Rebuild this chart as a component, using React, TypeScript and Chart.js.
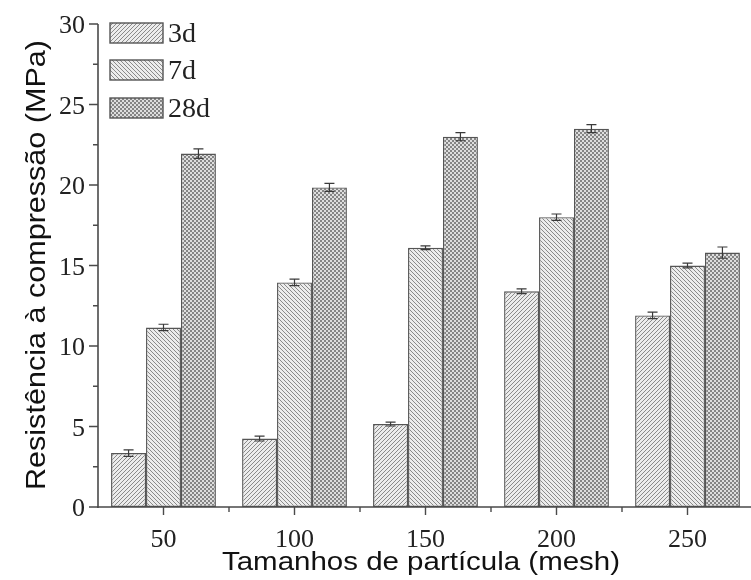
import React, { useEffect, useRef } from "react";
import { Chart, registerables } from "chart.js";

Chart.register(...registerables);

// Compressive strength by particle size (mesh) at three curing ages
const CATEGORIES = ["50", "100", "150", "200", "250"];
const SERIES_LABELS = ["3d", "7d", "28d"];
const VALUES_3D = [3.35, 4.25, 5.15, 13.4, 11.9];
const VALUES_7D = [11.15, 13.95, 16.1, 18.0, 15.0];
const VALUES_28D = [21.95, 19.85, 23.0, 23.5, 15.8];
const ERR_3D = [0.2, 0.15, 0.12, 0.15, 0.2];
const ERR_7D = [0.2, 0.2, 0.12, 0.2, 0.15];
const ERR_28D = [0.3, 0.25, 0.25, 0.25, 0.35];
const Y_TICKS = [0, 5, 10, 15, 20, 25, 30];
const Y_MINOR = [2.5, 7.5, 12.5, 17.5, 22.5, 27.5];
const X_TITLE = "Tamanhos de partícula (mesh)";
const Y_TITLE = "Resistência à compressão (MPa)";

const SERIF = '"Liberation Serif", "Times New Roman", serif';
const SANS = '"Liberation Sans", Arial, sans-serif';
const AXIS_COLOR = "#4a4a4a";
const TEXT_COLOR = "#222";

function makePattern(kind: string): CanvasPattern | string {
  const size = 4;
  const c = document.createElement("canvas");
  c.width = size;
  c.height = size;
  const g = c.getContext("2d");
  if (!g) return "#ccc";
  if (kind === "checker") {
    g.fillStyle = "#dedede";
    g.fillRect(0, 0, size, size);
    g.fillStyle = "#858585";
    g.fillRect(0, 0, 2, 2);
    g.fillRect(2, 2, 2, 2);
  } else {
    g.fillStyle = "#ececec";
    g.fillRect(0, 0, size, size);
    g.strokeStyle = "#8a8a8a";
    g.lineWidth = 1;
    g.beginPath();
    if (kind === "up") {
      g.moveTo(-1, size + 1);
      g.lineTo(size + 1, -1);
      g.moveTo(-1, 1);
      g.lineTo(1, -1);
      g.moveTo(size - 1, size + 1);
      g.lineTo(size + 1, size - 1);
    } else {
      g.moveTo(-1, -1);
      g.lineTo(size + 1, size + 1);
      g.moveTo(size - 1, -1);
      g.lineTo(size + 1, 1);
      g.moveTo(-1, size - 1);
      g.lineTo(1, size + 1);
    }
    g.stroke();
  }
  const p = g.createPattern(c, "repeat");
  return p || "#ccc";
}

function fitText(
  ctx: CanvasRenderingContext2D,
  text: string,
  x: number,
  y: number,
  targetWidth: number,
  angle: number
) {
  const natural = ctx.measureText(text).width;
  const sx = targetWidth / natural;
  ctx.save();
  ctx.translate(x, y);
  ctx.rotate(angle);
  ctx.scale(sx, 1);
  ctx.fillText(text, 0, 0);
  ctx.restore();
}

const errorBarsPlugin = {
  id: "errorBars",
  afterDatasetsDraw(chart: any) {
    const { ctx } = chart;
    const y = chart.scales.y;
    const errs = [ERR_3D, ERR_7D, ERR_28D];
    ctx.save();
    ctx.strokeStyle = "#3a3a3a";
    ctx.lineWidth = 1.2;
    chart.data.datasets.forEach((ds: any, di: number) => {
      const meta = chart.getDatasetMeta(di);
      meta.data.forEach((bar: any, i: number) => {
        const v = ds.data[i];
        const e = errs[di][i];
        const top = y.getPixelForValue(v + e);
        const bot = y.getPixelForValue(v - e);
        const cx = bar.x;
        ctx.beginPath();
        ctx.moveTo(cx, top);
        ctx.lineTo(cx, bot);
        ctx.moveTo(cx - 5, top);
        ctx.lineTo(cx + 5, top);
        ctx.moveTo(cx - 5, bot);
        ctx.lineTo(cx + 5, bot);
        ctx.stroke();
      });
    });
    ctx.restore();
  },
};

const axesPlugin = {
  id: "axesAndLegend",
  afterDraw(chart: any) {
    const { ctx, chartArea } = chart;
    const xs = chart.scales.x;
    const ys = chart.scales.y;
    const left = chartArea.left;
    const bottom = chartArea.bottom;
    ctx.save();

    // axis lines
    ctx.strokeStyle = AXIS_COLOR;
    ctx.lineWidth = 1.6;
    ctx.beginPath();
    ctx.moveTo(left, ys.getPixelForValue(30));
    ctx.lineTo(left, bottom + 1);
    ctx.moveTo(left - 1, bottom);
    ctx.lineTo(chart.width, bottom);
    ctx.stroke();

    // y ticks
    ctx.lineWidth = 1.4;
    ctx.beginPath();
    Y_TICKS.forEach((t) => {
      const py = ys.getPixelForValue(t);
      ctx.moveTo(left - 9, py);
      ctx.lineTo(left, py);
    });
    Y_MINOR.forEach((t) => {
      const py = ys.getPixelForValue(t);
      ctx.moveTo(left - 5, py);
      ctx.lineTo(left, py);
    });
    // x ticks: major at category centres, minor at group boundaries
    CATEGORIES.forEach((_, i) => {
      const px = xs.getPixelForValue(i);
      ctx.moveTo(px, bottom);
      ctx.lineTo(px, bottom + 8);
      if (i > 0) {
        const bx = (px + xs.getPixelForValue(i - 1)) / 2;
        ctx.moveTo(bx, bottom);
        ctx.lineTo(bx, bottom + 5);
      }
    });
    ctx.stroke();

    // tick labels
    ctx.fillStyle = TEXT_COLOR;
    ctx.font = `26px ${SERIF}`;
    ctx.textAlign = "right";
    ctx.textBaseline = "alphabetic";
    Y_TICKS.forEach((t) => {
      ctx.fillText(String(t), left - 13, ys.getPixelForValue(t) + 9);
    });
    ctx.textAlign = "center";
    CATEGORIES.forEach((c, i) => {
      ctx.fillText(c, xs.getPixelForValue(i), bottom + 40);
    });

    // axis titles
    ctx.fillStyle = "#111";
    ctx.font = `26px ${SANS}`;
    ctx.textAlign = "center";
    fitText(ctx, X_TITLE, 421, 570, 398, 0);
    ctx.font = `28px ${SANS}`;
    fitText(ctx, Y_TITLE, 45, 265, 450, -Math.PI / 2);

    // legend
    const rows = [33, 70, 108];
    chart.data.datasets.forEach((ds: any, i: number) => {
      const cy = rows[i];
      ctx.fillStyle = ds.backgroundColor;
      ctx.fillRect(110, cy - 10, 53, 20);
      ctx.strokeStyle = "#555";
      ctx.lineWidth = 1.4;
      ctx.strokeRect(110, cy - 10, 53, 20);
      ctx.fillStyle = TEXT_COLOR;
      ctx.font = `28px ${SERIF}`;
      ctx.textAlign = "left";
      ctx.fillText(SERIES_LABELS[i], 168, cy + 9);
    });
    ctx.restore();
  },
};

export default function App() {
  const ref = useRef<HTMLCanvasElement | null>(null);

  useEffect(() => {
    if (!ref.current) return;
    const kinds = ["up", "down", "checker"];
    const values = [VALUES_3D, VALUES_7D, VALUES_28D];
    const chart = new Chart(ref.current, {
      type: "bar",
      data: {
        labels: CATEGORIES,
        datasets: SERIES_LABELS.map((label, i) => ({
          label,
          data: values[i],
          backgroundColor: makePattern(kinds[i]) as any,
          borderColor: "#555",
          borderWidth: 1.4,
          borderSkipped: false,
          categoryPercentage: 0.8,
          barPercentage: 1.0,
        })),
      },
      options: {
        animation: false,
        responsive: false,
        maintainAspectRatio: false,
        layout: { padding: { left: 98, top: 24, right: 7, bottom: 73 } },
        plugins: {
          legend: { display: false },
          tooltip: { enabled: false },
          title: { display: false },
        },
        scales: {
          x: { display: false, offset: true },
          y: { display: false, min: 0, max: 30 },
        },
      },
      plugins: [errorBarsPlugin, axesPlugin],
    });
    return () => chart.destroy();
  }, []);

  return (
    <div
      style={{
        position: "absolute",
        left: 0,
        top: 0,
        width: 751,
        height: 580,
        overflow: "hidden",
        background: "#fff",
      }}
    >
      <canvas
        ref={ref}
        width={760}
        height={580}
        style={{ display: "block", width: 760, height: 580 }}
      />
    </div>
  );
}
